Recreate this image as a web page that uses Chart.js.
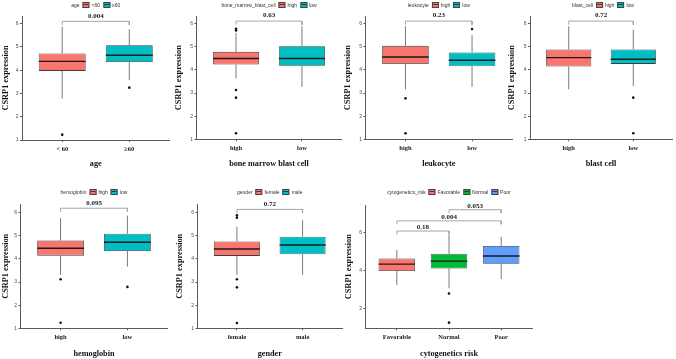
<!DOCTYPE html>
<html>
<head>
<meta charset="utf-8">
<script src="https://cdn.jsdelivr.net/npm/chart.js@4.4.1/dist/chart.umd.min.js"></script>
<style>
  html, body { margin: 0; padding: 0; background: #fff; }
  #wrap { position: relative; width: 676px; height: 359px; overflow: hidden; }
  #wrap canvas { position: absolute; left: 0; top: 0; }
  .lg { position: absolute; font: 5px "Liberation Sans", Arial, sans-serif; color: #333; white-space: nowrap;
        transform: translate(-50%, -50%); display: flex; align-items: center; }
  .lg i { display: inline-block; width: 5px; height: 4px; border: 0.7px solid #444; margin: 0 2px 0 3px;
          background-image: linear-gradient(#222, #222); background-size: 100% 0.8px;
          background-position: center; background-repeat: no-repeat; }
</style>
</head>
<body>
<div id="wrap"></div>
<script>
// ---- data (five numbers per box: lower whisker, Q1, median, Q3, upper whisker) ----
const ageCats = ["< 60", "≥60"];
const ageLegend = ["<60", "≥60"];
const ageBox = [[2.78, 3.97, 4.38, 4.72, 5.87], [3.58, 4.35, 4.64, 5.07, 5.76]];
const ageOut = [[1.23], [3.25]];
const ageP = ["0.004"];
const ageBracketY = [6.10];

const bmCats = ["high", "low"];
const bmBox = [[3.63, 4.23, 4.49, 4.78, 5.60], [3.27, 4.18, 4.49, 5.02, 5.89]];
const bmOut = [[5.78, 5.70, 3.13, 2.80, 1.26], []];
const bmP = ["0.63"];
const bmBracketY = [6.11];

const leuCats = ["high", "low"];
const leuBox = [[3.16, 4.25, 4.56, 5.04, 5.89], [3.27, 4.16, 4.42, 4.75, 5.50]];
const leuOut = [[2.77, 1.26], [5.77]];
const leuP = ["0.23"];
const leuBracketY = [6.11];

const blastCats = ["high", "low"];
const blastBox = [[3.16, 4.15, 4.53, 4.88, 5.89], [3.30, 4.26, 4.46, 4.88, 5.74]];
const blastOut = [[], [2.80, 1.26]];
const blastP = ["0.72"];
const blastBracketY = [6.11];

const hbCats = ["high", "low"];
const hbBox = [[3.31, 4.14, 4.46, 4.79, 5.76], [3.67, 4.34, 4.72, 5.09, 5.87]];
const hbOut = [[3.12, 1.24], [2.79]];
const hbP = ["0.095"];
const hbBracketY = [6.19];

const genderCats = ["female", "male"];
const genderBox = [[3.31, 4.13, 4.43, 4.75, 5.39], [3.31, 4.20, 4.60, 4.96, 5.67]];
const genderOut = [[5.88, 5.78, 3.12, 2.77, 1.23], []];
const genderP = ["0.72"];
const genderBracketY = [6.14];

const cytoCats = ["Favorable", "Normal", "Poor"];
const cytoBox = [[3.23, 3.97, 4.34, 4.64, 5.08], [3.06, 4.11, 4.50, 4.89, 5.88], [3.55, 4.36, 4.77, 5.30, 5.79]];
const cytoOut = [[], [2.78, 1.24], []];
const cytoPairs = [[1, 2], [1, 3], [2, 3]];
const cytoP = ["0.18", "0.004", "0.053"];
const cytoBracketY = [6.09, 6.63, 7.22];

const yTicks16 = [1, 2, 3, 4, 5, 6];
const yTicksCyto = [2, 4, 6];

// ---- style ----
const RED = "#F8766D", TEAL = "#00BFC4", GREEN = "#00BA38", BLUE = "#619CFF";
const SERIF = '"Liberation Serif", "Times New Roman", serif';
const SANS = '"Liberation Sans", Arial, sans-serif';
const AXIS = "#5a5a5a";
const W = 676, H = 359;
const wrap = document.getElementById("wrap");

function legend(cx, cy, title, labels, colors) {
  const d = document.createElement("div");
  d.className = "lg";
  d.style.left = cx + "px";
  d.style.top = cy + "px";
  let h = "<span>" + title + "</span>";
  labels.forEach((t, i) => { h += '<i style="background-color:' + colors[i] + '"></i><span>' + t + "</span>"; });
  d.innerHTML = h;
  wrap.appendChild(d);
}

function panel(p) {
  const canvas = document.createElement("canvas");
  canvas.width = W; canvas.height = H;
  wrap.appendChild(canvas);

  const pairs = p.pairs || p.pvals.map(() => [1, 2]);
  const tip = p.tip || 0.16;

  const whiskers = [], medians = [], outliers = [], brackets = [];
  p.box.forEach((b, i) => {
    const c = i + 1;
    whiskers.push({ x: c, y: b[0] }, { x: c, y: b[1] }, { x: c, y: null },
                  { x: c, y: b[3] }, { x: c, y: b[4] }, { x: c, y: null });
    medians.push({ x: c - 0.35, y: b[2] }, { x: c + 0.35, y: b[2] }, { x: c, y: null });
    p.out[i].forEach((v) => outliers.push({ x: c, y: v }));
  });
  pairs.forEach(([a, b], k) => {
    const y = p.bracketY[k];
    brackets.push({ x: a, y: y - tip }, { x: a, y: y }, { x: b, y: y }, { x: b, y: y - tip }, { x: b, y: null });
  });

  const pText = {
    id: "pText",
    afterDatasetsDraw(chart) {
      const { ctx, scales: { x, y } } = chart;
      ctx.save();
      ctx.font = "bold 7px " + SERIF;
      ctx.fillStyle = "#1a1a1a";
      ctx.textAlign = "center";
      ctx.textBaseline = "middle";
      pairs.forEach(([a, b], k) => {
        ctx.fillText(p.pvals[k], x.getPixelForValue((a + b) / 2), y.getPixelForValue(p.bracketY[k]) - p.gap);
      });
      ctx.restore();
    },
  };

  const yTitleSize = 8.3, xTitleSize = 8.2;
  const padLeft = p.yTitleX - yTitleSize / 2;
  const scaleBottom = p.xTitleY + xTitleSize / 2;
  const n = p.cats.length;

  new Chart(canvas, {
    type: "bar",
    data: {
      datasets: [
        { type: "bar", data: p.box.map((b, i) => ({ x: i + 1, y: [b[1], b[3]] })),
          backgroundColor: p.colors, borderColor: "#3d3d3d", borderWidth: 0.8, borderSkipped: false,
          barPercentage: 0.7, categoryPercentage: 1, order: 2 },
        { type: "line", data: whiskers, borderColor: "#7a7a7a", borderWidth: 1, pointRadius: 0, spanGaps: false, order: 3 },
        { type: "line", data: medians, borderColor: "#1a1a1a", borderWidth: 1.4, pointRadius: 0, spanGaps: false, order: 1 },
        { type: "scatter", data: outliers, backgroundColor: "#111", borderWidth: 0, pointRadius: 1.3, order: 0 },
        { type: "line", data: brackets, borderColor: "#a6a6a6", borderWidth: 1, pointRadius: 0, spanGaps: false, order: 4, clip: false },
      ],
    },
    options: {
      responsive: false, animation: false, devicePixelRatio: 1,
      layout: { padding: { left: padLeft, right: W - p.r, top: p.t, bottom: H - scaleBottom } },
      plugins: { legend: { display: false }, tooltip: { enabled: false } },
      scales: {
        x: {
          type: "linear", min: 0.4, max: n + 0.6, offset: false,
          afterBuildTicks: (s) => { s.ticks = p.cats.map((c, i) => ({ value: i + 1 })); },
          afterFit: (s) => { s.height = scaleBottom - p.b; },
          ticks: { callback: (v) => p.cats[v - 1], autoSkip: false, maxRotation: 0, padding: 3.5,
                   font: { family: SERIF, weight: "bold", size: 6.5 }, color: "#1a1a1a" },
          grid: { drawOnChartArea: false, offset: false, tickLength: 2, color: AXIS },
          border: { color: AXIS, width: 1 },
          title: { display: true, text: p.xTitle, padding: 0, color: "#111",
                   font: { family: SERIF, weight: "bold", size: xTitleSize, lineHeight: 1 } },
        },
        y: {
          type: "linear", min: p.yMin, max: p.yMax,
          afterBuildTicks: (s) => { s.ticks = p.yTicks.map((v) => ({ value: v })); },
          afterFit: (s) => { s.width = p.l - padLeft; },
          ticks: { padding: 1.5, font: { family: SANS, size: 5 }, color: "#4d4d4d" },
          grid: { drawOnChartArea: false, tickLength: 2, color: AXIS },
          border: { color: AXIS, width: 1 },
          title: { display: true, text: "CSRP1 expression", padding: 0, color: "#111",
                   font: { family: SERIF, weight: "bold", size: yTitleSize, lineHeight: 1 } },
        },
      },
    },
    plugins: [pText],
  });

  legend((p.l + p.r) / 2, p.legendY, p.legendTitle, p.legendLabels || p.cats, p.colors);
}

const topRow = { t: 16, b: 140, xTitleY: 164.3, legendY: 4.5, yMin: 1, yMax: 6.33, yTicks: yTicks16, gap: 5.6 };
const botRow = { t: 204.3, b: 328.3, xTitleY: 354, legendY: 191.8, yMin: 1, yMax: 6.36, yTicks: yTicks16, gap: 5.2 };

panel({ ...topRow, l: 22, r: 169.5, yTitleX: 5.5, cats: ageCats, legendLabels: ageLegend, box: ageBox, out: ageOut,
        pvals: ageP, bracketY: ageBracketY, colors: [RED, TEAL], xTitle: "age", legendTitle: "age" });
panel({ ...topRow, b: 139.3, l: 196.5, r: 341.5, yTitleX: 179, cats: bmCats, box: bmBox, out: bmOut,
        pvals: bmP, bracketY: bmBracketY, colors: [RED, TEAL], xTitle: "bone marrow blast cell", legendTitle: "bone_marrow_blast_cell" });
panel({ ...topRow, b: 139.3, l: 365.5, r: 512, yTitleX: 348.3, cats: leuCats, box: leuBox, out: leuOut,
        pvals: leuP, bracketY: leuBracketY, colors: [RED, TEAL], xTitle: "leukocyte", legendTitle: "leukocyte" });
panel({ ...topRow, b: 139.3, l: 530, r: 676, yTitleX: 512.3, cats: blastCats, box: blastBox, out: blastOut,
        pvals: blastP, bracketY: blastBracketY, colors: [RED, TEAL], xTitle: "blast cell", legendTitle: "blast_cell" });
panel({ ...botRow, l: 20.5, r: 167.5, yTitleX: 5.5, cats: hbCats, box: hbBox, out: hbOut,
        pvals: hbP, bracketY: hbBracketY, colors: [RED, TEAL], xTitle: "hemoglobin", legendTitle: "hemoglobin" });
panel({ ...botRow, l: 197.5, r: 342, yTitleX: 180, cats: genderCats, box: genderBox, out: genderOut,
        pvals: genderP, bracketY: genderBracketY, colors: [RED, TEAL], xTitle: "gender", legendTitle: "gender" });
panel({ ...botRow, t: 205, yMin: 0.94, yMax: 7.47, yTicks: yTicksCyto, gap: 3.8, tip: 0.18,
        l: 365.5, r: 532.5, yTitleX: 349, cats: cytoCats, box: cytoBox, out: cytoOut, pairs: cytoPairs,
        pvals: cytoP, bracketY: cytoBracketY, colors: [RED, GREEN, BLUE], xTitle: "cytogenetics risk", legendTitle: "cytogenetics_risk" });
</script>
</body>
</html>
